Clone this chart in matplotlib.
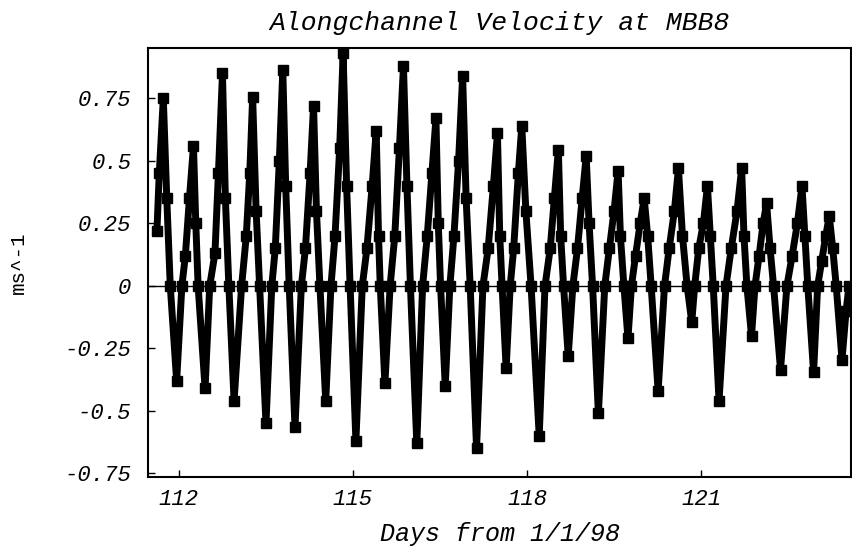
import matplotlib
matplotlib.use("Agg")
import matplotlib.pyplot as plt

# Alongchannel velocity at MBB8 (extrema, zero
# crossings and shoulders of each semidiurnal cycle)
days = [
    111.62, 111.66, 111.73, 111.79, 111.85, 111.96,
    112.05, 112.11, 112.18, 112.25, 112.29, 112.33, 112.45,
    112.53, 112.62, 112.68, 112.75, 112.80, 112.86, 112.95,
    113.08, 113.16, 113.22, 113.27, 113.33, 113.39, 113.50,
    113.60, 113.66, 113.73, 113.79, 113.84, 113.90, 114.00,
    114.11, 114.18, 114.26, 114.32, 114.37, 114.43, 114.53,
    114.62, 114.69, 114.77, 114.83, 114.89, 114.95, 115.05,
    115.16, 115.24, 115.33, 115.40, 115.44, 115.47, 115.55,
    115.64, 115.72, 115.80, 115.87, 115.93, 115.99, 116.10,
    116.20, 116.28, 116.36, 116.43, 116.47, 116.51, 116.59,
    116.67, 116.74, 116.82, 116.89, 116.95, 117.02, 117.13,
    117.24, 117.33, 117.42, 117.49, 117.53, 117.57, 117.64,
    117.71, 117.77, 117.85, 117.91, 117.98, 118.07, 118.21,
    118.31, 118.40, 118.47, 118.54, 118.58, 118.63, 118.71,
    118.79, 118.87, 118.95, 119.02, 119.07, 119.13, 119.23,
    119.34, 119.42, 119.50, 119.57, 119.61, 119.67, 119.74,
    119.80, 119.87, 119.95, 120.02, 120.08, 120.14, 120.26,
    120.37, 120.45, 120.54, 120.61, 120.68, 120.76, 120.84,
    120.89, 120.96, 121.04, 121.11, 121.16, 121.21, 121.31,
    121.43, 121.52, 121.62, 121.70, 121.74, 121.79, 121.87,
    121.93, 122.00, 122.07, 122.13, 122.19, 122.25, 122.37,
    122.48, 122.57, 122.66, 122.74, 122.79, 122.84, 122.94,
    123.01, 123.08, 123.15, 123.21, 123.27, 123.33, 123.43,
    123.50, 123.55,
]
vel = [
    0.22, 0.45, 0.75, 0.35, 0.00, -0.38,
    0.00, 0.12, 0.35, 0.56, 0.25, 0.00, -0.41,
    0.00, 0.13, 0.45, 0.85, 0.35, 0.00, -0.46,
    0.00, 0.20, 0.45, 0.755, 0.30, 0.00, -0.55,
    0.00, 0.15, 0.50, 0.865, 0.40, 0.00, -0.565,
    0.00, 0.15, 0.45, 0.72, 0.30, 0.00, -0.46,
    0.00, 0.20, 0.55, 0.93, 0.40, 0.00, -0.62,
    0.00, 0.15, 0.40, 0.62, 0.20, 0.00, -0.39,
    0.00, 0.20, 0.55, 0.88, 0.40, 0.00, -0.63,
    0.00, 0.20, 0.45, 0.67, 0.25, 0.00, -0.40,
    0.00, 0.20, 0.50, 0.84, 0.35, 0.00, -0.65,
    0.00, 0.15, 0.40, 0.61, 0.20, 0.00, -0.33,
    0.00, 0.15, 0.45, 0.64, 0.30, 0.00, -0.60,
    0.00, 0.15, 0.35, 0.545, 0.20, 0.00, -0.28,
    0.00, 0.15, 0.35, 0.52, 0.25, 0.00, -0.51,
    0.00, 0.15, 0.30, 0.46, 0.20, 0.00, -0.21,
    0.00, 0.12, 0.25, 0.35, 0.20, 0.00, -0.42,
    0.00, 0.15, 0.30, 0.47, 0.20, 0.00, -0.145,
    0.00, 0.15, 0.25, 0.40, 0.20, 0.00, -0.46,
    0.00, 0.15, 0.30, 0.47, 0.20, 0.00, -0.20,
    0.00, 0.12, 0.25, 0.33, 0.15, 0.00, -0.335,
    0.00, 0.12, 0.25, 0.40, 0.20, 0.00, -0.345,
    0.00, 0.10, 0.20, 0.28, 0.15, 0.00, -0.295,
    -0.10, 0.00,
]
assert len(days) == len(vel)

xticks = [112, 115, 118, 121]
yticks = [-0.75, -0.5, -0.25, 0, 0.25, 0.5, 0.75]
ytick_labels = ["-0.75", "-0.5", "-0.25", "0", "0.25", "0.5", "0.75"]

plt.rcParams["font.family"] = ["Liberation Mono", "DejaVu Sans Mono"]

fig = plt.figure(figsize=(8.52, 5.52), dpi=100)
ax = fig.add_axes([0.1737, 0.1359, 0.8252, 0.7772])

ax.axhline(0, color="black", linewidth=1.0, zorder=1)
ax.plot(days, vel, "-s", color="black", linewidth=5, markersize=7,
        solid_joinstyle="miter", zorder=2)

ax.set_xlim(111.466, 123.586)
ax.set_ylim(-0.764, 0.952)
ax.set_xticks(xticks)
ax.set_xticklabels([str(t) for t in xticks])
ax.set_yticks(yticks)
ax.set_yticklabels(ytick_labels)

for lab in ax.get_xticklabels() + ax.get_yticklabels():
    lab.set_fontstyle("italic")
    lab.set_fontsize(16)

ax.tick_params(axis="both", direction="in", length=5, width=1,
               top=False, right=False)
ax.tick_params(axis="x", pad=9)
ax.tick_params(axis="y", pad=12)
for sp in ax.spines.values():
    sp.set_linewidth(1.5)

ax.set_title("Alongchannel Velocity at MBB8", fontsize=19,
             fontstyle="italic", pad=13)
ax.set_xlabel("Days from 1/1/98", fontsize=18, fontstyle="italic",
              labelpad=8)
ax.set_ylabel("ms^-1", fontsize=15)
ax.yaxis.set_label_coords(-0.171, 0.5)

fig.savefig("out.png", dpi=100)
